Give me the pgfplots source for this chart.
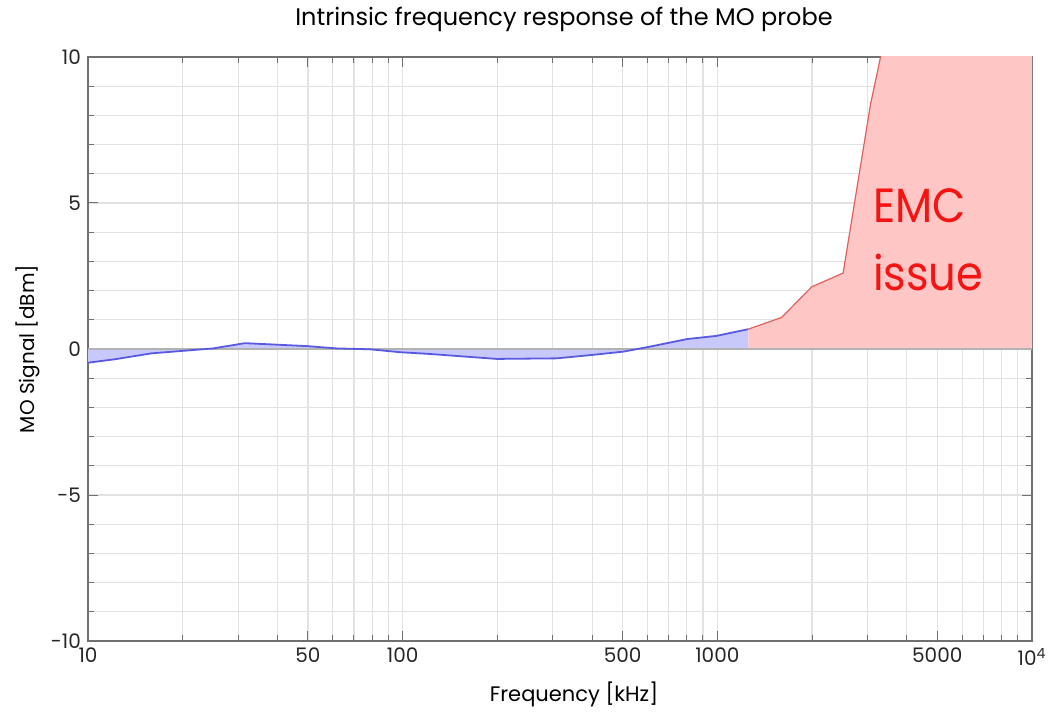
\documentclass[border=0pt]{standalone}
\usepackage{pgfplots}
\pgfplotsset{compat=1.18}
\usepackage{fontspec}
\setmainfont{Poppins}
\newfontfamily\emcfont[FakeStretch=0.9]{Poppins}
\definecolor{bfill}{HTML}{C8C8FA}
\definecolor{bline}{HTML}{5A5AE0}
\definecolor{rfill}{HTML}{FFC6C6}
\definecolor{rline}{HTML}{E06060}
\definecolor{gridc}{HTML}{E2E2E2}
\definecolor{axc}{HTML}{707070}
\definecolor{emc}{HTML}{F41414}
\begin{document}
\begin{tikzpicture}
\begin{axis}[name=ax, scale only axis, width=472pt, height=292pt,
  xmode=log, xmin=10, xmax=10000, ymin=-10, ymax=10,
  xtick={10,50,100,500,1000,5000,10000},
  xticklabels={10,50,100,500,1000,5000,10\textsuperscript{4}},
  minor xtick={20,30,40,60,70,80,90,200,300,400,600,700,800,900,2000,3000,4000,6000,7000,8000,9000},
  ytick={-10,-5,0,5,10},
  minor ytick={-9,-8,-7,-6,-4,-3,-2,-1,1,2,3,4,6,7,8,9},
  grid=both,
  major grid style={gridc, line width=0.6pt},
  minor grid style={gridc, line width=0.6pt},
  tick align=inside, major tick length=5pt, minor tick length=3pt,
  tick style={axc, line width=0.5pt},
  axis line style={axc, line width=1pt},
  /pgf/number format/assume math mode=true,
  ticklabel style={font=\fontsize{10}{12}\selectfont, text=black!85},
  clip=true,
]
\addplot[draw=none, fill=bfill] coordinates {
(10,-0.47)(12.2,-0.35)(15.9,-0.15)(25,0.02)(31.5,0.2)(49.5,0.1)(61.7,0.02)(78.7,-0.01)(98,-0.11)(122,-0.17)(199,-0.34)(309,-0.32)(403,-0.2)(503,-0.09)(597,0.06)(801,0.34)(994,0.45)(1255,0.68)
} \closedcycle;
\addplot[draw=none, fill=rfill] coordinates {
(1255,0.68)(1600,1.08)(1996,2.13)(2510,2.6)(3070,8.4)(3600,11.9)(10000,11.9)
} \closedcycle;
\addplot[gray!60, line width=0.8pt] coordinates {(10,0)(10000,0)};
\addplot[bline, line width=0.9pt] coordinates {
(10,-0.47)(12.2,-0.35)(15.9,-0.15)(25,0.02)(31.5,0.2)(49.5,0.1)(61.7,0.02)(78.7,-0.01)(98,-0.11)(122,-0.17)(199,-0.34)(309,-0.32)(403,-0.2)(503,-0.09)(597,0.06)(801,0.34)(994,0.45)(1255,0.68)
};
\addplot[rline, line width=0.6pt] coordinates {
(1255,0.68)(1600,1.08)(1996,2.13)(2510,2.6)(3070,8.4)(3600,11.9)
};
\node[anchor=base west, text=emc, font=\emcfont\fontsize{24}{28}\selectfont, inner sep=0pt] at (axis cs:3120,4.33) {EMC};
\node[anchor=base west, text=emc, font=\emcfont\fontsize{24}{28}\selectfont, inner sep=0pt] at (axis cs:3120,2.0) {issue};
\end{axis}
\node[font=\fontsize{12}{14}\selectfont] at ([yshift=19pt,xshift=2pt]ax.north) {Intrinsic frequency response of the MO probe};
\node[font=\fontsize{10.5}{12}\selectfont] at ([yshift=-26.5pt,xshift=7pt]ax.south) {Frequency [kHz]};
\node[rotate=90, font=\fontsize{10}{12}\selectfont] at ([xshift=-30pt]ax.west) {MO Signal [dBm]};
\pgfresetboundingbox
\useasboundingbox ([xshift=-44pt,yshift=-35pt]ax.south west) rectangle ([xshift=10pt,yshift=28.5pt]ax.north east);
\end{tikzpicture}
\end{document}
